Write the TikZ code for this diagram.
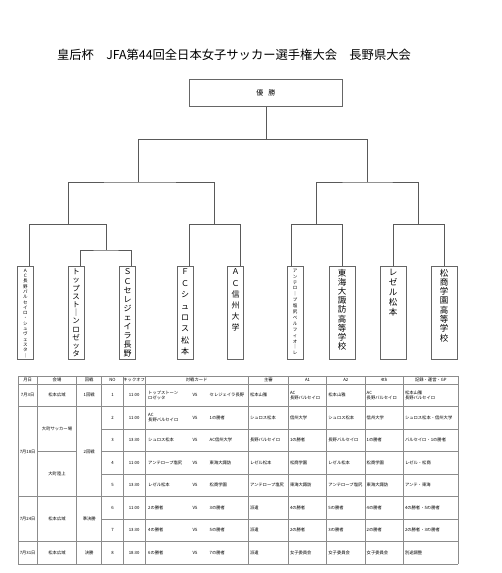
\documentclass[tikz,border=0pt]{standalone}
\usepackage{fontspec}
\setmainfont{Noto Sans CJK JP}
\usetikzlibrary{positioning}

% stack characters for vertical names
\def\tatesplit#1{\ifx#1\relax\else\hbox to\hsize{\hss#1\hss}\expandafter\tatesplit\fi}
\newcommand\tate[4]{\parbox[t][88pt][t]{#3pt}{\fontsize{#1}{#2}\selectfont\tatesplit#4\relax}}

\begin{document}
\begin{tikzpicture}[x=1pt, y=-1pt,
  br/.style={draw=black!65, line width=0.8pt},
  team/.style={draw=black!60, line width=0.9pt, inner sep=1pt,
               minimum height=93pt, anchor=north},
  grid/.style={draw=black!45, line width=0.5pt},
  cell/.style={font=\fontsize{4.3}{5.2}\selectfont, inner sep=0pt, align=left},
  head/.style={cell, align=center}
]
\useasboundingbox[fill=white] (0,0) rectangle (502,573);

\node[font=\fontsize{12.3}{13}\selectfont] (title) at (234,55)
  {皇后杯　JFA第44回全日本女子サッカー選手権大会　長野県大会};

\node[draw=black!60, line width=0.9pt, minimum width=153pt, minimum height=27pt,
      anchor=north west, font=\fontsize{7}{8}\selectfont] (win) at (189,79) {優\hspace{5pt}勝};

% teams
\node[team, minimum width=16pt] (t1) at (25.5,266) {\tate{4.5}{5.3}{14}{ＡＣ長野パルセイロ・シュヴェスタ｜}};
\node[team, minimum width=16pt] (t2) at (76,266) {\tate{7.5}{8.2}{14}{トップスト｜ンロゼッタ}};
\node[team, minimum width=16pt] (t3) at (127.5,266) {\tate{8}{9.1}{14}{ＳＣセレジェイラ長野}};
\node[team, minimum width=16pt] (t4) at (185,266) {\tate{8}{11.4}{14}{ＦＣシュロス松本}};
\node[team, minimum width=16pt] (t5) at (235.5,266) {\tate{8}{11.2}{14}{ＡＣ信州大学}};
\node[team, minimum width=16pt] (t6) at (295,266) {\tate{4.5}{5.9}{14}{アンテロ｜プ塩尻ベルフィオ｜レ}};
\node[team, minimum width=26pt] (t7) at (342,266) {\tate{8.5}{9.2}{24}{東海大諏訪高等学校}};
\node[team, minimum width=26pt] (t8) at (393,266) {\tate{8.5}{10}{24}{レゼル松本}};
\node[team, minimum width=26pt] (t9) at (444,266) {\tate{8.5}{9.3}{24}{松商学園高等学校}};

% line tops on the boxes
\coordinate (p1) at (29.7,266);
\coordinate (p2) at (80.7,266);
\coordinate (p3) at (131.7,266);
\coordinate (p4) at (189.3,266);
\coordinate (p5) at (240.3,266);
\coordinate (p6) at (291.3,266);
\coordinate (p7) at (342.3,266);
\coordinate (p8) at (393.3,266);
\coordinate (p9) at (444.3,266);

% bracket joints
\coordinate (m12) at (106.2,250);
\coordinate (mQ1) at (68.5,224.5);
\coordinate (mQ2) at (214.8,224.5);
\coordinate (mQ3) at (316.8,224.5);
\coordinate (mQ4) at (418.8,224.5);
\coordinate (mS1) at (138.5,182);
\coordinate (mS2) at (367.7,182);
\coordinate (mF) at (266,139.5);

\draw[br] (p2) |- (m12) -| (p3);
\draw[br] (p1) |- (mQ1) -| (m12);
\draw[br] (p4) |- (mQ2) -| (p5);
\draw[br] (p6) |- (mQ3) -| (p7);
\draw[br] (p8) |- (mQ4) -| (p9);
\draw[br] (mQ1) |- (mS1) -| (mQ2);
\draw[br] (mQ3) |- (mS2) -| (mQ4);
\draw[br] (mS1) |- (mF) -| (mS2);
\draw[br] (mF) -- (win.south -| mF);

% schedule table
\foreach \x in {18,37.3,76.7,101.7,123.3,145,248.3,288.3,326.7,365,403.3,458.3}
  \draw[grid] (\x,376) -- (\x,564);
\foreach \y in {376,384,406.5,496.5,541.5,564}
  \draw[grid] (18,\y) -- (458.3,\y);
\foreach \y in {429,451.5,474,519}
  \draw[grid] (101.7,\y) -- (458.3,\y);
\draw[grid] (37.3,451.5) -- (76.7,451.5);

\foreach \x/\h [count=\i] in {27.65/月日,57/会場,89.2/回戦,112.5/NO,134.15/キックオフ,
    196.65/対戦カード,268.3/主審,307.5/A1,345.85/A2,384.15/4th,430.8/記録・運営・GP}
  \node[head] (h\i) at (\x,380) {\h};

\node[head] (d1) at (27.65,395.25) {7月3日};
\node[head] (d2) at (27.65,451.5) {7月18日};
\node[head] (d3) at (27.65,519) {7月24日};
\node[head] (d4) at (27.65,552.75) {7月31日};
\node[head] (v1) at (57,395.25) {松本広域};
\node[head] (v2) at (57,429) {大町サッカー場};
\node[head] (v3) at (57,474) {大町陸上};
\node[head] (v4) at (57,519) {松本広域};
\node[head] (v5) at (57,552.75) {松本広域};
\node[head] (k1) at (89.2,395.25) {1回戦};
\node[head] (k2) at (89.2,451.5) {2回戦};
\node[head] (k3) at (89.2,519) {準決勝};
\node[head] (k4) at (89.2,552.75) {決勝};

\foreach \n/\ko/\ta/\tb/\rf/\aa/\ab/\fo/\gp in {
  1/11:00/{トップストーン\\ロゼッタ}/セレジェイラ長野/松本山雅/{AC\\長野パルセイロ}/松本山雅/{AC\\長野パルセイロ}/{松本山雅\\長野パルセイロ},
  2/11:00/{AC\\長野パルセイロ}/1の勝者/シュロス松本/信州大学/シュロス松本/信州大学/シュロス松本・信州大学,
  3/13:30/シュロス松本/AC信州大学/長野パルセイロ/1の勝者/長野パルセイロ/1の勝者/パルセイロ・1の勝者,
  4/11:00/アンテロープ塩尻/東海大諏訪/レゼル松本/松商学園/レゼル松本/松商学園/レゼル・松商,
  5/13:30/レゼル松本/松商学園/アンテロープ塩尻/東海大諏訪/アンテロープ塩尻/東海大諏訪/アンテ・東海,
  6/11:00/2の勝者/3の勝者/派遣/4の勝者/5の勝者/4の勝者/4の勝者・5の勝者,
  7/13:30/4の勝者/5の勝者/派遣/2の勝者/3の勝者/2の勝者/2の勝者・3の勝者,
  8/18:30/6の勝者/7の勝者/派遣/女子委員会/女子委員会/女子委員会/別途調整}
{
  \pgfmathsetmacro\yc{372.75+22.5*\n}
  \node[head] (no\n) at (112.5,\yc) {\n};
  \node[head] (ko\n) at (134.15,\yc) {\ko};
  \node[cell, anchor=west] (ta\n) at (148,\yc) {\ta};
  \node[head] (vs\n) at (195,\yc) {VS};
  \node[cell, anchor=west] (tb\n) at (209.5,\yc) {\tb};
  \node[cell, anchor=west] (rf\n) at (249.8,\yc) {\rf};
  \node[cell, anchor=west] (aa\n) at (289.8,\yc) {\aa};
  \node[cell, anchor=west] (ab\n) at (328.2,\yc) {\ab};
  \node[cell, anchor=west] (fo\n) at (366.5,\yc) {\fo};
  \node[cell, anchor=west] (gp\n) at (404.8,\yc) {\gp};
}
\end{tikzpicture}
\end{document}
